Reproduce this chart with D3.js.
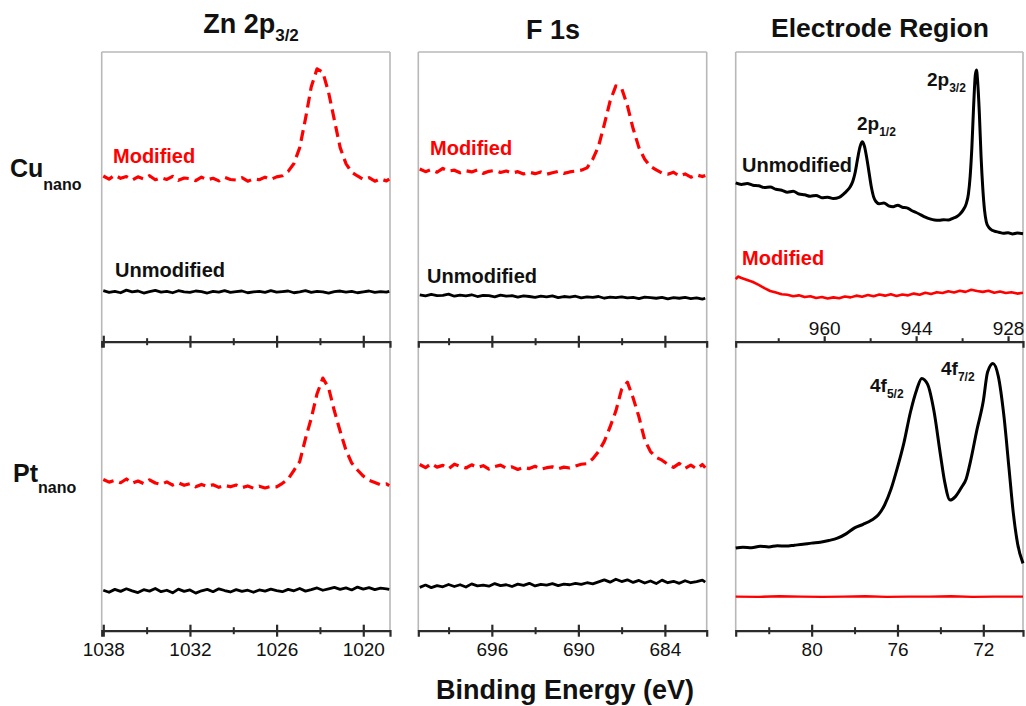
<!DOCTYPE html>
<html><head><meta charset="utf-8">
<script src="https://cdn.jsdelivr.net/npm/d3@7"></script>
<style>body{margin:0;background:#fff}svg{display:block;font-family:"Liberation Sans",Arial,sans-serif}</style>
</head><body><svg id="c" width="1026" height="706"></svg>
<script>
// ---------------- DATA ----------------
const znE = [1038.0,1037.6,1037.2,1036.8,1036.4,1036.0,1035.6,1035.2,1034.8,1034.4,1034.0,1033.6,1033.2,1032.8,1032.4,1032.0,1031.6,1031.2,1030.8,1030.4,1030.0,1029.6,1029.2,1028.8,1028.4,1028.0,1027.6,1027.2,1026.8,1026.4,1026.0,1025.6,1025.2,1024.8,1024.4,1024.0,1023.6,1023.2,1022.8,1022.4,1022.0,1021.6,1021.2,1020.8,1020.4,1020.0,1019.6,1019.2,1018.8,1018.4,1018.2];
const znCuMod = [57.2,56.1,57.5,56.4,57.0,55.8,56.9,56.2,57.3,55.9,56.6,56.0,57.1,55.7,56.5,56.3,55.6,56.8,55.9,56.4,55.5,56.7,56.0,55.8,56.6,55.4,56.2,55.9,56.8,56.0,56.9,
  57.3,58.8,61.5,67.0,77.0,88.0,94.2,93.0,86.0,76.5,67.0,61.5,58.5,57.2,
  56.0,56.6,55.4,56.2,55.5,56.1];
const znCuUnmod = [17.6,17.0,17.4,16.9,17.8,17.2,17.5,16.8,17.3,17.7,17.1,17.4,16.9,17.6,17.2,17.0,17.5,17.3,16.8,17.4,17.1,17.6,17.0,17.3,17.5,16.9,17.2,17.4,17.0,17.6,17.1,17.3,17.5,16.9,17.2,17.6,17.0,17.4,17.2,16.8,17.3,17.5,17.1,17.4,16.9,17.2,17.5,17.0,17.3,17.1,17.4];
const znPtMod = [52.3,51.4,52.0,51.2,52.5,51.0,51.8,50.9,52.2,51.1,50.6,51.5,50.4,51.2,50.3,50.9,49.8,50.6,49.9,50.5,49.6,50.3,49.8,50.4,49.5,50.1,49.3,50.0,49.4,49.9,
  49.8,51.0,52.5,55.5,58.5,66.5,73.5,82.0,87.4,84.0,76.0,69.0,62.5,58.0,55.6,53.5,52.0,51.3,50.5,50.8,50.2];
const znPtUnmod = [14.0,13.3,14.3,13.6,14.5,13.8,13.2,14.2,13.7,14.6,13.5,14.0,13.1,14.4,13.6,14.1,13.0,13.8,14.3,13.5,14.5,13.9,13.4,14.2,13.6,14.0,13.3,14.1,13.7,14.4,13.9,13.5,14.3,13.8,14.6,13.7,14.2,14.8,14.0,14.5,15.0,14.3,14.8,14.1,15.1,14.4,14.9,14.2,14.7,14.5,14.3];

const fE = [701.0,700.6,700.2,699.8,699.4,699.0,698.6,698.2,697.8,697.4,697.0,696.6,696.2,695.8,695.4,695.0,694.6,694.2,693.8,693.4,693.0,692.6,692.2,691.8,691.4,691.0,690.6,690.2,689.8,689.4,689.0,688.6,688.2,687.8,687.4,687.0,686.6,686.2,685.8,685.4,685.0,684.6,684.2,683.8,683.4,683.0,682.6,682.2,681.8,681.4,681.2];
const fCuMod = [59.6,58.7,59.4,58.5,59.8,58.9,59.2,58.3,59.0,58.6,59.3,58.1,58.8,59.1,58.4,58.9,58.2,58.7,57.9,58.5,58.0,58.6,57.8,58.3,58.8,58.1,58.6,58.9,59.2,
  60.0,63.0,67.5,75.0,83.0,88.3,87.5,81.5,73.5,67.0,63.0,60.5,59.3,58.2,
  57.8,58.5,57.2,57.9,56.8,57.6,57.0,57.4];
const fCuUnmod = [16.2,15.8,16.3,15.9,16.0,16.4,15.7,16.1,15.8,16.2,15.6,16.0,15.9,15.5,16.1,15.7,15.9,15.4,15.8,15.6,15.3,15.7,15.5,15.8,15.2,15.6,15.4,15.7,15.1,15.5,15.3,15.6,15.0,15.4,15.2,15.5,15.1,15.3,14.9,15.4,15.2,15.0,15.3,14.8,15.2,15.0,15.3,14.9,15.1,14.7,15.0];
const fPtMod = [57.5,56.4,57.8,56.6,57.2,56.0,57.6,56.9,56.3,57.4,56.5,57.1,55.9,56.8,57.3,56.2,56.7,55.8,56.5,56.1,56.9,55.9,56.4,56.7,56.0,56.6,56.3,57.0,57.6,
  57.8,59.5,62.0,65.5,70.5,76.0,83.5,86.0,80.5,74.0,66.0,62.0,60.0,59.0,
  57.6,56.5,57.9,56.2,57.3,56.0,57.5,56.4];
const fPtUnmod = [15.0,15.8,14.9,15.6,15.2,16.0,15.3,15.9,15.1,16.2,15.5,15.8,15.4,16.3,15.6,15.9,15.3,16.1,15.7,16.4,15.5,16.0,15.8,16.3,15.6,16.1,15.9,16.4,16.0,16.6,16.2,16.9,17.6,16.8,17.8,17.0,17.6,16.7,17.4,16.5,17.2,16.3,17.5,16.6,17.1,16.4,17.3,16.6,17.0,17.5,16.8];

const cuE = [975.4,974.4,973.4,972.4,971.4,970.4,969.4,968.4,967.4,966.4,965.4,964.4,963.4,962.4,961.4,960.4,959.4,958.4,957.4,
  956.6,956.0,955.5,955.0,954.6,954.2,953.8,953.4,953.0,952.6,952.2,951.8,951.4,951.0,
  950.4,949.6,948.8,948.0,947.2,946.4,945.6,944.8,944.0,943.2,942.4,941.6,940.8,940.0,939.2,938.4,937.6,937.0,936.4,935.8,935.3,934.9,
  934.6,934.3,934.0,933.7,933.5,933.3,933.0,932.7,932.4,932.1,931.8,931.4,931.0,
  930.4,929.6,928.8,928.0,927.2,926.4,925.4];
const cuUnmod = [54.8,54.3,54.6,54.0,53.8,53.2,53.4,52.6,52.3,51.6,51.9,51.0,50.7,50.2,50.5,49.7,49.9,49.4,49.8,
  51.0,52.2,53.4,55.5,58.5,63.0,67.0,69.0,67.5,63.5,58.5,53.5,50.0,48.4,
  47.6,47.9,46.9,46.6,47.1,46.4,46.2,45.3,44.6,43.8,43.0,42.4,42.0,41.9,42.1,42.0,42.6,43.1,44.0,45.5,47.5,51.0,
  57.0,67.0,81.0,92.0,93.8,90.0,79.0,64.0,53.0,45.5,41.5,39.6,38.8,
  38.2,37.8,37.4,37.6,37.2,37.5,37.3];
const cuModE = [975.4,975.0,974.4,973.4,972.4,971.4,970.4,969.4,968.4,967.4,966.4,965.4,964.4,963.4,962.4,961.4,960.4,959.4,958.4,957.4,956.4,955.4,954.4,953.4,952.4,951.4,950.4,949.4,948.4,947.4,946.4,945.4,944.4,943.4,942.4,941.4,940.4,939.4,938.4,937.4,936.4,935.4,934.4,933.4,932.4,931.4,930.4,929.4,928.4,927.4,926.4,925.4];
const cuMod = [21.6,22.5,22.0,21.3,20.6,19.6,18.5,17.5,17.0,16.4,16.2,15.7,16.0,15.4,15.7,15.1,15.4,14.9,15.3,15.0,15.6,15.3,15.9,15.5,16.1,15.7,16.3,15.9,16.4,15.8,16.3,16.0,16.6,16.2,16.9,16.5,17.1,16.8,17.4,17.0,17.6,17.2,17.9,17.5,17.2,17.6,16.9,17.3,16.8,17.1,16.6,16.9];

const ptE = [83.54,83.2,82.8,82.4,82.0,81.6,81.2,80.8,80.4,80.0,79.6,79.2,78.8,78.4,78.0,77.6,77.2,76.9,76.6,76.3,76.0,75.7,75.4,75.1,74.87,74.6,74.3,74.0,73.8,73.55,73.3,73.0,72.8,72.6,72.3,72.0,71.8,71.55,71.3,71.05,70.8,70.6,70.4,70.15];
const ptUnmod = [28.6,28.9,28.7,29.2,29.0,29.4,29.3,29.6,29.9,30.3,30.6,31.2,32.0,33.5,35.6,36.8,38.3,40.0,43.5,49.0,56.5,65.0,75.5,83.5,87.3,85.3,76.0,61.0,51.5,45.2,46.4,49.8,52.5,58.5,69.4,79.5,89.5,92.5,88.0,75.0,56.0,40.6,30.0,23.3];
const ptModE = [83.54,82.5,81.5,80.5,79.5,78.5,77.5,76.5,75.5,74.5,73.5,72.5,71.5,70.5,70.15];
const ptMod = [11.8,11.7,11.9,11.8,11.7,11.8,11.9,11.7,11.8,11.8,11.9,11.7,11.8,11.8,11.8];

const znMajor = [1038,1032,1026,1020], znMinor = [1035,1029,1023];
const fMajor = [696,690,684], fMinor = [699,693,687];
const cuMajor = [960,944,928], cuMinor = [968,952,936];
const ptMajor = [80,76,72], ptMinor = [82,78,74];

// ---------------- LAYOUT ----------------
const svg = d3.select("#c");
const TOP = 52, MID = 341.7, BOT = 630.7;
const xZn = d3.scaleLinear().domain([1038.11,1018.15]).range([101.7,390]);
const xF  = d3.scaleLinear().domain([701.1,681.1]).range([418.3,706.7]);
const xCu = d3.scaleLinear().domain([975.4,925.4]).range([735.7,1023]);
const xPt = d3.scaleLinear().domain([83.54,70.15]).range([735.7,1023]);
const yTop = d3.scaleLinear().domain([0,100]).range([MID,TOP]);
const yBot = d3.scaleLinear().domain([0,100]).range([BOT,MID]);

const RED = "#ff0000", GRAY = "#b8b8b8", AX = "#2b2b2b";

// frames
[xZn, xF, xCu].forEach(s => {
  const [a,b] = s.range();
  svg.append("line").attr("x1",a).attr("x2",a).attr("y1",TOP).attr("y2",BOT).attr("stroke",GRAY).attr("stroke-width",1.6);
  svg.append("line").attr("x1",b).attr("x2",b).attr("y1",TOP).attr("y2",BOT).attr("stroke",GRAY).attr("stroke-width",1.6);
  svg.append("line").attr("x1",a).attr("x2",b).attr("y1",TOP).attr("y2",TOP).attr("stroke",GRAY).attr("stroke-width",1.6);
});

function drawAxis(scale, y, major, minor, labels, mode) {
  // mode: "cross" ticks on both sides, labels below; "up" ticks up, labels above
  const g = svg.append("g").attr("transform", `translate(0,${y})`);
  g.call(d3.axisBottom(scale).tickValues(major).tickSizeOuter(0).tickSize(6)
    .tickFormat(labels ? d3.format("d") : () => ""));
  g.attr("font-family", '"Liberation Sans", Arial, sans-serif').attr("font-size", 19);
  g.select(".domain").attr("stroke", AX).attr("stroke-width", 2.2);
  g.selectAll(".tick line").attr("stroke", AX).attr("stroke-width", 2.2)
    .attr("y1", mode === "up" ? -5.5 : -6).attr("y2", mode === "up" ? 0 : 6);
  g.selectAll(".tick text").attr("fill", "#111").attr("dy", 0)
    .attr("y", mode === "up" ? -6.5 : 25.5);
  const gm = svg.append("g").attr("transform", `translate(0,${y})`);
  gm.call(d3.axisBottom(scale).tickValues(minor).tickSizeOuter(0).tickFormat(() => ""));
  gm.select(".domain").remove();
  gm.selectAll(".tick line").attr("stroke", AX).attr("stroke-width", 2)
    .attr("y1", mode === "up" ? -3.5 : -3.5).attr("y2", mode === "up" ? 0 : 3.5);
}
drawAxis(xZn, MID, znMajor, znMinor, false, "cross");
drawAxis(xZn, BOT, znMajor, znMinor, true, "cross");
drawAxis(xF, MID, fMajor, fMinor, false, "cross");
drawAxis(xF, BOT, fMajor, fMinor, true, "cross");
drawAxis(xCu, MID, cuMajor, cuMinor, true, "up");
drawAxis(xPt, BOT, ptMajor, ptMinor, true, "cross");

function drawLine(xs, ys, E, V, color, width, dash, curve) {
  const data = E.map((e, i) => ({ e, v: V[i] }));
  svg.append("path").datum(data)
    .attr("d", d3.line().x(d => xs(d.e)).y(d => ys(d.v)).curve(curve || d3.curveLinear))
    .attr("fill", "none").attr("stroke", color).attr("stroke-width", width)
    .attr("stroke-linejoin", "round").attr("stroke-dasharray", dash || null);
}
drawLine(xZn, yTop, znE, znCuMod, RED, 3.2, "11,6");
drawLine(xZn, yTop, znE, znCuUnmod, "#000", 2.8);
drawLine(xZn, yBot, znE, znPtMod, RED, 3.2, "11,6");
drawLine(xZn, yBot, znE, znPtUnmod, "#000", 2.8);
drawLine(xF, yTop, fE, fCuMod, RED, 3.2, "11,6");
drawLine(xF, yTop, fE, fCuUnmod, "#000", 2.8);
drawLine(xF, yBot, fE, fPtMod, RED, 3.2, "11,6");
drawLine(xF, yBot, fE, fPtUnmod, "#000", 2.8);
drawLine(xCu, yTop, cuE, cuUnmod, "#000", 3, null, d3.curveMonotoneX);
drawLine(xCu, yTop, cuModE, cuMod, RED, 2.6);
drawLine(xPt, yBot, ptE, ptUnmod, "#000", 3, null, d3.curveMonotoneX);
drawLine(xPt, yBot, ptModE, ptMod, RED, 2.4);

// ---------------- TEXT ----------------
function label(x, y, main, sub, size, subSize, dy, color, anchor) {
  const t = svg.append("text").attr("x", x).attr("y", y).attr("font-weight", "bold")
    .attr("font-size", size).attr("fill", color || "#111").attr("text-anchor", anchor || "start");
  t.append("tspan").text(main);
  if (sub) t.append("tspan").attr("font-size", subSize).attr("dy", dy).text(sub);
}
label(251, 33, "Zn 2p", "3/2", 27, 17, 8, "#111", "middle");
label(553, 39, "F 1s", null, 27, 0, 0, "#111", "middle");
label(880, 37, "Electrode Region", null, 26.5, 0, 0, "#111", "middle");
label(10, 177, "Cu", "nano", 25, 16, 13);
label(13, 482, "Pt", "nano", 25, 16, 11);
label(113, 163, "Modified", null, 20, 0, 0, RED);
label(115, 277, "Unmodified", null, 20, 0, 0, "#111");
label(430, 155, "Modified", null, 20, 0, 0, RED);
label(427, 283, "Unmodified", null, 20, 0, 0, "#111");
label(742, 172, "Unmodified", null, 20, 0, 0, "#111");
label(742, 265, "Modified", null, 20, 0, 0, RED);
label(857, 130, "2p", "1/2", 19, 12, 6);
label(927, 86, "2p", "3/2", 19, 12, 6);
label(870, 392, "4f", "5/2", 19, 12, 6);
label(941, 375, "4f", "7/2", 19, 12, 6);
label(565, 699, "Binding Energy (eV)", null, 27, 0, 0, "#111", "middle");
</script></body></html>
